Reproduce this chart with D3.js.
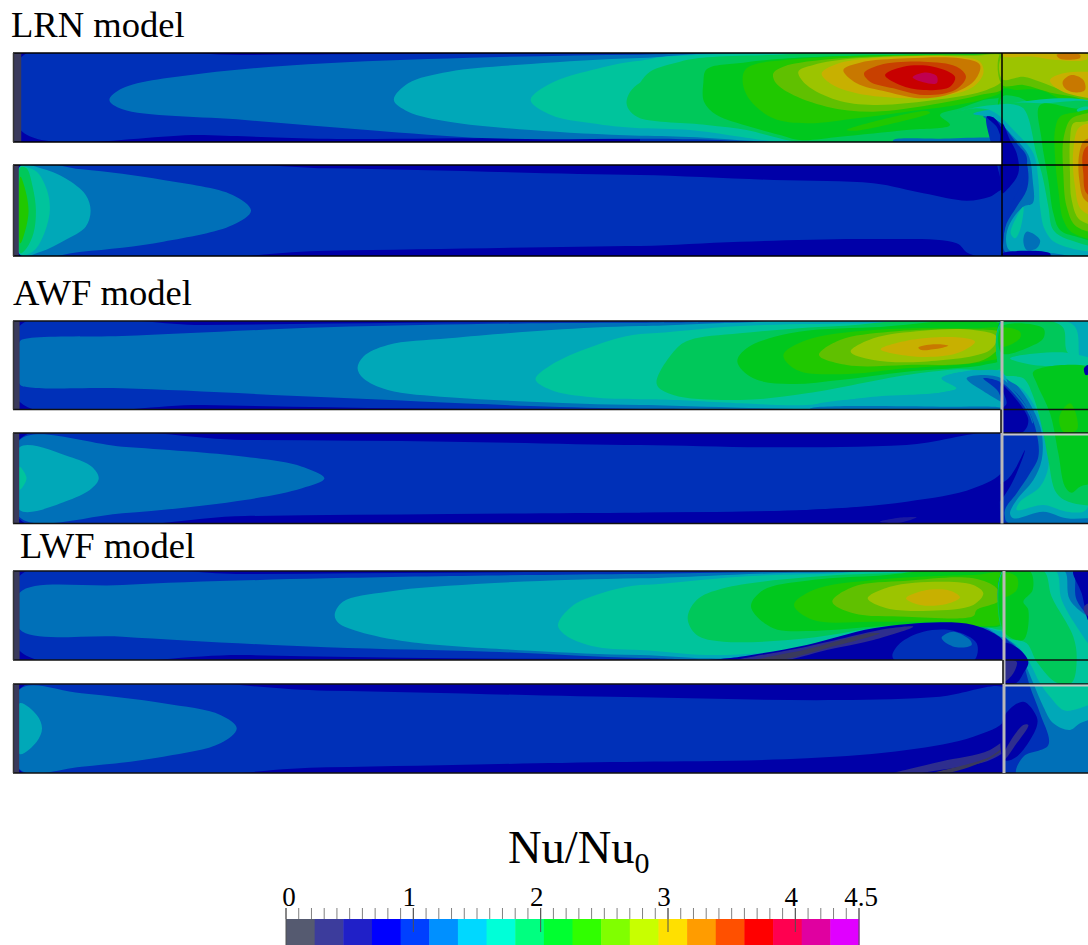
<!DOCTYPE html>
<html><head><meta charset="utf-8">
<script src="https://cdnjs.cloudflare.com/ajax/libs/d3/7.8.5/d3.min.js"></script>
<style>html,body{margin:0;padding:0;background:#fff}svg{display:block}text{font-family:"Liberation Serif",serif;fill:#000}</style>
</head><body><svg id="c" width="1088" height="945"></svg>
<script>
// Field band colours (shaded surface), indexed by legend band
const fieldColours=["#3a3a5c","#2e2e8e","#1a1aa0","#0000a8","#0030b8","#0070b8","#00a8b8","#00c49c","#00c85a","#00c81e","#20c800","#60c000","#9cc400","#c8b000","#c87800","#c84000","#c80000","#c00050"];
const legendColours=["#555a70","#3c3c9c","#2020c8","#0000ff","#0040ff","#0090ff","#00d8ff","#00ffd8","#00ff80","#00ff30","#30ff00","#80ff00","#c8ff00","#ffe000","#ff9c00","#ff5000","#ff0000","#ff0050","#e000a0","#e000ff"];
const legendMajor=[0,1,2,3,4,4.5];
const legendMinor=d3.range(0,46).map(d=>d/10);
const titles=["LRN model","AWF model","LWF model"];

// Iso-bands: [band, outline] or [band, x0,y0,x1,y1]
const lrnLeft=[
[3,0,30,1900,310],
[4,[[52,52],[600,45],[1400,39],[1568,38],[1900,38],[1900,298],[1568,298],[1300,294],[780,296],[500,285],[52,272]]],
[5,[[268,180],[300,145],[500,100],[800,70],[1200,52],[1568,44],[1900,44],[1900,296],[1568,296],[1200,295],[900,270],[600,240],[300,208]]],
[6,[[965,180],[1000,130],[1100,95],[1300,72],[1568,54],[1900,54],[1900,287],[1568,287],[1300,270],[1100,245],[1000,215]]],
[7,[[1300,180],[1350,130],[1450,90],[1568,62],[1900,62],[1900,265],[1568,265],[1450,250],[1350,225]]],
[8,[[1535,190],[1568,128],[1900,128],[1900,235],[1568,235]]],
[0,33,30,52,310],
[3,0,370,1900,650],
[4,[[60,380],[800,385],[1568,405],[1900,405],[1900,618],[1568,618],[800,632],[60,642]]],
[5,[[615,512],[570,465],[400,420],[200,388],[50,378],[50,645],[200,635],[400,605],[570,555]]],
[6,[[222,512],[210,465],[160,415],[100,385],[50,378],[50,645],[100,635],[160,600],[210,560]]],
[7,[[122,512],[115,450],[90,395],[60,380],[50,380],[50,642],[80,635],[105,590]]],
[8,[[88,512],[80,440],[65,385],[50,382],[50,640],[65,625],[82,580]]],
[10,[[70,512],[60,440],[50,410],[50,610],[60,580]]],
[0,33,370,46,650]
];
const lrnRight=[
[4,-5,30,1090,306],
[5,[[-300,44],[0,44],[170,40],[400,38],[1090,36],[1090,306],[400,306],[170,298],[0,296],[-300,296]]],
[6,[[-300,54],[0,54],[170,42],[400,38],[1090,36],[1090,306],[400,306],[170,292],[0,287],[-300,287]]],
[7,[[-300,62],[0,62],[60,52],[170,45],[400,38],[1090,36],[1090,306],[430,306],[300,290],[170,272],[0,265],[-300,265]]],
[8,[[-42,190],[0,128],[30,95],[120,65],[200,52],[400,45],[1090,40],[1090,306],[480,306],[400,290],[320,270],[200,255],[0,235],[-30,215]]],
[9,[[190,130],[200,88],[310,68],[500,52],[1000,42],[1090,42],[1090,165],[1030,180],[960,205],[900,225],[930,255],[800,270],[600,290],[480,300],[420,285],[330,260],[230,225],[192,185]]],
[10,[[308,125],[320,85],[500,55],[1000,45],[1090,50],[1090,150],[1040,175],[950,195],[800,215],[650,235],[500,250],[400,235],[330,180]]],
[10,[[620,270],[700,245],[860,213],[870,218],[760,250],[650,272]]],
[11,[[400,100],[430,80],[600,55],[1000,44],[1090,48],[1090,145],[1020,165],[900,190],[700,215],[560,200],[450,160],[405,125]]],
[12,[[475,95],[520,75],[650,55],[1000,47],[1090,50],[1090,118],[1040,150],[900,178],[700,195],[590,180],[500,135]]],
[13,[[545,100],[590,72],[700,55],[950,50],[1020,65],[1030,100],[1000,140],[900,170],[800,175],[650,160],[570,130]]],
[14,[[610,90],[660,68],[800,55],[960,55],[1020,75],[1005,120],[950,155],[850,175],[740,155],[650,130]]],
[15,[[672,100],[720,75],[850,65],[950,80],[978,110],[945,150],[850,165],[760,145],[690,125]]],
[16,[[735,105],[790,80],[880,80],[945,110],[930,140],[850,150],[780,135]]],
[17,[[818,112],[850,98],[890,108],[890,130],[850,127]]],
[5,[[760,300],[900,296],[1087,298],[1087,306],[760,306]]],
[3,-5,370,1090,650],
[4,[[-300,405],[0,405],[400,420],[700,430],[850,460],[980,482],[1050,470],[1090,450],[1090,650],[985,640],[950,610],[700,597],[300,605],[0,618],[-300,618]]],
[10,1087,30,1400,260],
[4,1087,260,1400,650],
[11,[[1087,30],[1400,30],[1400,190],[1300,170],[1240,160],[1150,135],[1087,135]]],
[12,[[1087,48],[1400,48],[1400,170],[1270,150],[1200,125],[1150,110],[1087,118]]],
[13,[[1087,36],[1180,36],[1240,42],[1340,42],[1340,58],[1250,60],[1180,50],[1087,48]]],
[14,[[1250,44],[1320,44],[1320,54],[1260,56]]],
[13,[[1230,120],[1270,100],[1344,95],[1400,100],[1400,170],[1300,165],[1250,145]]],
[14,[[1268,125],[1295,105],[1330,120],[1335,150],[1300,157],[1275,145]]],
[9,[[1087,148],[1130,150],[1200,150],[1290,190],[1400,205],[1400,260],[1087,260]]],
[8,[[1087,170],[1130,170],[1190,195],[1400,215],[1400,260],[1087,260]]],
[5,[[1030,228],[1060,250],[1110,300],[1150,340],[1165,400],[1160,450],[1130,500],[1100,550],[1090,600],[1095,635],[1180,640],[1400,640],[1400,215],[1100,215]]],
[6,[[1000,222],[1060,235],[1120,290],[1165,345],[1178,420],[1178,490],[1150,500],[1110,550],[1098,600],[1110,632],[1190,632],[1240,640],[1400,640],[1400,212],[1060,208]]],
[5,[[1160,575],[1200,600],[1190,625],[1160,630],[1150,600]]],
[7,[[950,215],[1010,205],[1060,215],[1130,280],[1180,340],[1195,420],[1200,500],[1215,570],[1250,610],[1400,620],[1400,208],[1060,195]]],
[7,[[1130,530],[1150,500],[1140,570],[1125,595],[1112,580]]],
[8,[[1100,190],[1150,205],[1190,345],[1210,420],[1225,500],[1240,570],[1290,600],[1400,610],[1400,205],[1200,190]]],
[9,[[1200,195],[1205,300],[1225,420],[1240,520],[1260,570],[1310,590],[1400,600],[1400,225],[1300,205]]],
[7,[[1310,210],[1344,200],[1360,225],[1330,225]]],
[10,[[1245,270],[1260,230],[1300,218],[1400,215],[1400,590],[1300,580],[1270,540],[1255,450],[1245,350]]],
[11,[[1270,300],[1290,240],[1320,225],[1400,225],[1400,570],[1310,560],[1280,500],[1270,400]]],
[12,[[1290,300],[1300,250],[1330,245],[1400,240],[1400,550],[1320,540],[1295,480],[1290,400]]],
[13,[[1300,330],[1320,260],[1400,260],[1400,530],[1325,510],[1305,440]]],
[14,[[1318,340],[1335,300],[1400,300],[1400,500],[1335,480],[1318,420]]],
[15,[[1328,345],[1340,320],[1400,320],[1400,480],[1340,460],[1330,400]]],
[4,[[1040,230],[1060,235],[1087,255],[1130,310],[1160,350],[1150,420],[1120,480],[1095,560],[1087,640],[1087,450]]],
[3,[[1087,250],[1110,300],[1130,340],[1135,400],[1100,450],[1087,460]]],
[3,[[1087,640],[1230,640],[1230,650],[1087,650]]],
[3,[[1040,230],[1060,232],[1090,280],[1087,300],[1070,260]]]
];
const awfLeft=[
[3,0,25,1900,304],
[4,[[48,48],[500,45],[1000,38],[1568,34],[1900,34],[1900,300],[1568,300],[1000,295],[500,285],[48,275]]],
[5,[[48,95],[70,85],[300,78],[800,52],[1300,40],[1568,38],[1900,38],[1900,296],[1568,296],[1300,288],[800,262],[300,235],[70,232],[48,222]]],
[6,[[876,175],[890,140],[950,105],[1100,85],[1350,60],[1568,48],[1900,48],[1900,285],[1568,285],[1300,275],[1100,262],[950,240],[890,205]]],
[7,[[1312,208],[1350,165],[1450,110],[1568,72],[1900,72],[1900,268],[1568,268],[1450,262],[1350,240]]],
[0,33,25,48,304],
[3,0,365,1900,645],
[4,[[48,388],[600,390],[1100,395],[1568,405],[1900,405],[1900,608],[1568,608],[1100,612],[600,618],[48,628]]],
[5,[[795,505],[740,470],[600,440],[300,410],[48,390],[48,622],[300,610],[600,570],[740,535]]],
[6,[[242,505],[225,470],[170,440],[48,412],[48,600],[170,570],[225,535]]],
[7,[[65,505],[48,470],[48,540]]],
[0,33,365,47,645]
];
const awfRight=[
[4,-5,25,1090,302],
[5,[[-300,38],[0,38],[300,36],[1090,33],[1090,302],[500,302],[200,298],[0,296],[-300,296]]],
[6,[[-300,48],[0,48],[300,38],[1090,33],[1090,295],[500,297],[200,290],[0,285],[-300,285]]],
[7,[[-300,72],[0,72],[300,48],[700,40],[1090,36],[1090,175],[1000,180],[905,205],[950,235],[900,248],[700,260],[500,285],[350,282],[100,270],[0,268],[-300,268]]],
[8,[[50,222],[110,115],[150,90],[300,70],[600,48],[1090,42],[1090,170],[950,178],[800,195],[500,250],[300,270],[100,255]]],
[9,[[292,155],[320,115],[450,70],[700,52],[1090,48],[1090,145],[1030,165],[800,185],[600,210],[450,222],[340,205]]],
[10,[[430,135],[500,90],[700,60],[1000,55],[1090,60],[1090,135],[1030,155],[800,175],[600,193],[470,180]]],
[11,[[537,135],[600,90],[750,65],[1000,58],[1090,70],[1090,95],[1030,150],[800,165],[620,165]]],
[12,[[632,125],[700,85],[850,62],[1000,60],[1070,80],[1050,120],[850,155],[700,150]]],
[13,[[722,118],[800,92],[950,82],[1005,95],[950,130],[830,140]]],
[14,[[835,113],[880,103],[925,107],[880,118],[845,120]]],
[3,-5,365,1090,645],
[4,[[-300,405],[0,405],[400,412],[800,405],[1090,378],[1090,480],[1000,535],[800,575],[500,600],[0,608],[-300,608]]],
[4,1085,25,1400,645],
[5,[[1060,205],[1120,240],[1165,300],[1190,370],[1195,440],[1170,490],[1130,550],[1095,600],[1100,635],[1400,635],[1400,30],[1085,30],[1085,205]]],
[6,[[1085,190],[1130,225],[1180,300],[1205,370],[1205,450],[1180,510],[1130,570],[1110,610],[1120,625],[1210,605],[1280,625],[1340,625],[1400,620],[1400,36],[1085,35]]],
[7,[[1085,190],[1150,240],[1190,300],[1220,390],[1225,470],[1200,530],[1140,575],[1130,600],[1210,585],[1280,605],[1330,605],[1344,590],[1344,200],[1320,150],[1300,45],[1085,38]]],
[8,[[1085,38],[1265,48],[1285,130],[1400,170],[1400,570],[1300,580],[1250,550],[1225,450],[1210,370],[1180,260],[1150,205],[1085,190]]],
[7,[[1110,145],[1280,128],[1400,165],[1180,165]]],
[9,[[1180,185],[1400,190],[1400,500],[1320,530],[1295,548],[1275,530],[1255,430],[1230,310],[1190,220]]],
[10,[[1258,320],[1290,280],[1310,320],[1310,360],[1270,365]]],
[9,[[1085,50],[1210,55],[1210,85],[1170,110],[1085,130]]],
[10,[[1085,55],[1140,65],[1140,85],[1085,110]]],
[3,[[1332,175],[1344,165],[1350,190],[1337,195]]],
[6,[[905,205],[1000,183],[1090,190],[1090,296],[500,297],[520,285],[700,262],[900,248],[950,235]]],
[5,[[980,205],[1030,195],[1085,205],[1120,240],[1165,300],[1178,340],[1120,300],[1090,280],[1040,250]]],
[5,[[510,296],[900,290],[1090,295],[1090,300],[510,300]]],
[4,[[1030,205],[1080,215],[1130,260],[1170,320],[1185,390],[1180,450],[1140,510],[1100,560],[1092,600],[1095,632],[1085,640],[1085,300],[1075,245]]],
[3,[[1080,220],[1130,270],[1165,330],[1150,365],[1085,365],[1085,300],[1100,280]]],
[3,[[1155,420],[1100,510],[1000,545],[800,580],[500,600],[0,608],[-300,608],[-300,650],[1085,650],[1085,632],[950,625],[1060,590],[1110,530]]],
[2,[[720,635],[790,622],[830,622],[780,638]]]
];
const lwfLeft=[
[3,0,25,1900,304],
[4,[[48,48],[600,42],[1100,38],[1568,34],[1900,34],[1900,298],[1568,298],[1100,295],[600,285],[48,272]]],
[5,[[48,98],[300,75],[800,55],[1568,42],[1900,42],[1900,294],[1568,294],[1200,275],[800,262],[300,230],[48,208]]],
[6,[[820,165],[840,125],[950,95],[1200,70],[1568,55],[1900,55],[1900,285],[1568,285],[1300,272],[1000,245],[880,215],[830,190]]],
[7,[[1367,195],[1400,140],[1460,105],[1568,75],[1900,75],[1900,270],[1568,270],[1450,258],[1385,225]]],
[0,33,25,48,304],
[3,0,365,1900,645],
[4,[[48,388],[800,392],[1568,412],[1900,412],[1900,605],[1568,605],[800,622],[48,630]]],
[5,[[580,505],[540,465],[400,430],[200,400],[48,388],[48,628],[200,620],[400,590],[540,550]]],
[6,[[103,505],[90,465],[48,430],[48,582],[90,545]]],
[0,33,365,47,645]
];
const lwfRight=[
[4,-5,25,1095,304],
[5,[[-300,42],[0,42],[400,36],[1095,34],[1095,304],[200,300],[0,294],[-300,294]]],
[6,[[-300,55],[0,55],[200,48],[400,40],[700,36],[1095,34],[1095,230],[1030,200],[900,187],[700,210],[500,265],[350,290],[200,295],[0,285],[-300,285]]],
[7,[[-300,75],[0,75],[300,50],[550,42],[1095,38],[1095,210],[1000,190],[900,188],[800,195],[600,240],[400,275],[200,285],[0,270],[-300,270]]],
[8,[[143,175],[170,120],[250,85],[500,52],[750,40],[1095,38],[1095,205],[1000,188],[900,188],[700,205],[500,235],[250,245],[170,225]]],
[9,[[333,140],[370,90],[500,62],[700,48],[1095,42],[1095,190],[900,188],[700,200],[500,213],[400,205]]],
[10,[[462,135],[520,90],[700,60],[1000,45],[1095,45],[1095,185],[900,185],[700,185],[520,180]]],
[11,[[577,125],[640,80],[800,62],[1000,55],[1070,85],[1080,120],[1010,150],[1000,168],[800,170],[640,160]]],
[12,[[683,115],[750,80],[900,65],[1000,75],[1030,100],[1000,135],[870,152],[740,145]]],
[13,[[798,115],[850,92],[930,92],[960,112],[920,132],[840,135]]],
[3,[[180,304],[300,290],[500,255],[700,205],[900,187],[1000,195],[1070,225],[1095,250],[1095,304]]],
[1,[[280,304],[500,260],[750,205],[820,200],[700,240],[560,270],[420,304]]],
[0,[[350,300],[500,268],[690,220],[720,220],[560,265],[420,300]]],
[4,[[757,288],[780,250],[850,215],[940,212],[1010,250],[1000,304],[770,304]]],
[5,[[905,232],[940,215],[990,240],[995,255],[950,262],[910,242]]],
[3,-5,365,1095,645],
[4,[[-300,412],[0,412],[300,418],[600,420],[900,410],[1095,385],[1095,480],[1000,530],[800,570],[500,595],[0,605],[-300,605]]],
[1,[[750,644],[900,605],[1050,570],[1150,495],[1165,495],[1130,545],[1050,600],[900,630],[800,644]]],
[0,[[880,640],[1050,590],[1120,535],[1130,530],[1060,590],[920,640]]],
[4,1092,25,1400,645],
[5,[[1092,28],[1295,28],[1310,120],[1400,250],[1400,645],[1130,645],[1150,590],[1225,555],[1200,460],[1170,380],[1150,310],[1130,265],[1092,225]]],
[6,[[1092,28],[1270,28],[1290,120],[1400,230],[1400,450],[1320,490],[1290,510],[1240,490],[1210,440],[1180,370],[1150,300],[1125,255],[1092,225]]],
[7,[[1092,28],[1245,30],[1265,120],[1330,230],[1400,330],[1400,400],[1300,450],[1270,450],[1230,410],[1200,370],[1170,310],[1140,265],[1092,220]]],
[8,[[1092,30],[1210,32],[1235,110],[1300,230],[1310,300],[1295,368],[1250,368],[1190,305],[1160,250],[1092,225]]],
[9,[[1092,32],[1170,34],[1178,90],[1150,125],[1165,150],[1150,240],[1092,215]]],
[10,[[1092,40],[1130,50],[1130,90],[1092,110]]],
[3,[[1300,32],[1344,32],[1344,180],[1325,100]]],
[1,[[1332,140],[1350,130],[1350,170],[1335,160]]],
[3,[[1092,250],[1130,262],[1165,305],[1150,340],[1130,368],[1092,368]]],
[1,[[1092,305],[1130,305],[1120,340],[1092,365]]],
[3,[[1092,470],[1150,425],[1190,470],[1190,500],[1130,590],[1092,600]]],
[1,[[1092,580],[1150,495],[1165,495],[1130,550],[1092,600]]]
];
const panels=[
 {title:titles[0],tx:11,ty:37,top:53,mid:142,low:165,bot:256,split:1002,frame:"#000",left:lrnLeft,right:lrnRight,cropY:40,divider:"#000",dw:1.5},
 {title:titles[1],tx:13,ty:305,top:321,mid:409.5,low:433,bot:523.5,split:1002,frame:"#111",left:awfLeft,right:awfRight,cropY:310,divider:"#b8b8b8",dw:3},
 {title:titles[2],tx:20,ty:558,top:571,mid:660,low:684,bot:773,split:1004,frame:"#111",left:lwfLeft,right:lwfRight,cropY:560,divider:"#b8b8b8",dw:3}
];
const svg=d3.select("#c");
const defs=svg.append("defs");
const xL=d3.scaleLinear([0,1568],[0,640]);
const xR=d3.scaleLinear([0,1344],[640,1088]);
const W=1088;
function drawBands(g,items,x,y){
 const line=d3.line().x(d=>x(d[0])).y(d=>y(d[1])).curve(d3.curveCatmullRomClosed.alpha(0.5));
 items.forEach(it=>{
  if(it.length===5){
   g.append("rect").attr("x",x(it[1])).attr("y",y(it[2])).attr("width",x(it[3])-x(it[1])).attr("height",y(it[4])-y(it[2])).attr("fill",fieldColours[it[0]]);
  } else {
   g.append("path").attr("d",line(it[1])).attr("fill",fieldColours[it[0]]);
  }
 });
}
panels.forEach((p,i)=>{
 const id="dom"+i;
 const cp=defs.append("clipPath").attr("id",id);
 cp.append("rect").attr("x",13).attr("y",p.top).attr("width",W-13).attr("height",p.mid-p.top);
 cp.append("rect").attr("x",13).attr("y",p.low).attr("width",W-13).attr("height",p.bot-p.low);
 cp.append("rect").attr("x",p.split).attr("y",p.top).attr("width",W-p.split).attr("height",p.bot-p.top);
 defs.append("clipPath").attr("id","lc"+i).append("rect").attr("x",0).attr("y",0).attr("width",640).attr("height",945);
 defs.append("clipPath").attr("id","rc"+i).append("rect").attr("x",640).attr("y",0).attr("width",450).attr("height",945);
 const y=d3.scaleLinear([0,675],[p.cropY,p.cropY+225]);
 const g=svg.append("g").attr("clip-path",`url(#${id})`);
 drawBands(g.append("g").attr("clip-path",`url(#lc${i})`),p.left,xL,y);
 drawBands(g.append("g").attr("clip-path",`url(#rc${i})`),p.right,xR,y);
 // frames
 const f=svg.append("g").attr("fill","none").attr("stroke",p.frame).attr("stroke-width",1.5);
 f.append("path").attr("d",`M13,${p.top}H${W}M13,${p.mid}H${W}M13,${p.low}H${W}M13,${p.bot}H${W}`);
 f.append("path").attr("d",`M13.5,${p.top}V${p.mid}M13.5,${p.low}V${p.bot}`).attr("stroke","#333");
 const dv=svg.append("g").attr("fill","none");
 dv.append("path").attr("d",`M${p.split},${p.top}V${p.bot}`).attr("stroke",p.divider).attr("stroke-width",p.dw);
 if(i>0){
  dv.append("path").attr("d",`M${p.split+1},${p.low+1.5}H${W}`).attr("stroke","#c8c8c8").attr("stroke-width",2);
  dv.append("path").attr("d",`M${p.split-1},${p.mid}V${p.low}`).attr("stroke","#111").attr("stroke-width",1.5);
 }
 svg.append("text").attr("x",p.tx).attr("y",p.ty).attr("font-size",36.6).text(p.title);
});
// Legend
const lx=d3.scaleLinear([0,4.5],[286,859]);
const band=d3.scaleBand(d3.range(legendColours.length),[286,859]);
const lg=svg.append("g");
lg.selectAll("rect").data(legendColours).join("rect")
 .attr("x",(d,i)=>band(i)).attr("y",919).attr("width",band.bandwidth()+0.5).attr("height",26).attr("fill",d=>d);
lg.selectAll("line.mn").data(legendMinor).join("line").attr("class","mn")
 .attr("x1",d=>lx(d)).attr("x2",d=>lx(d)).attr("y1",908).attr("y2",919).attr("stroke","#808080").attr("stroke-width",1);
lg.selectAll("line.mj").data(legendMajor).join("line").attr("class","mj")
 .attr("x1",d=>lx(d)).attr("x2",d=>lx(d)).attr("y1",908).attr("y2",d=>(d===0||d===4.5)?945:932).attr("stroke","#505050").attr("stroke-width",1);
lg.selectAll("text.lb").data(legendMajor).join("text").attr("class","lb")
 .attr("x",d=>lx(d)+(d===0?3:d===4.5?2:-4)).attr("y",906).attr("font-size",27).attr("text-anchor","middle").text(d=>d);
const t=svg.append("text").attr("x",508).attr("y",863).attr("font-size",46.5);
t.append("tspan").text("Nu/Nu");
t.append("tspan").attr("dy",10).attr("font-size",30).text("0");
</script></body></html>
